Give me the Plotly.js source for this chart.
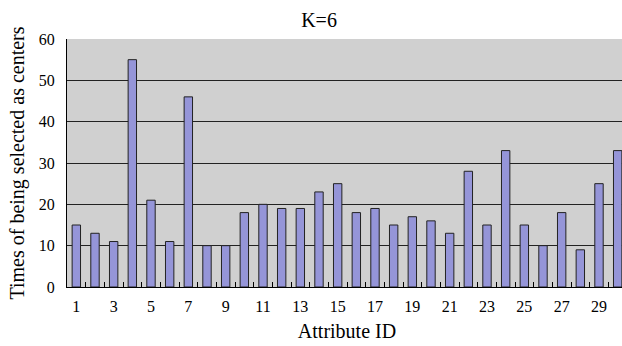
<!DOCTYPE html>
<html>
<head>
<meta charset="utf-8">
<script src="https://cdn.plot.ly/plotly-3.0.1.min.js"></script>
<style>
html, body { margin: 0; padding: 0; overflow: hidden; width: 622px; height: 346px; background: #fff; }
#chart { width: 628px; height: 346px; }
</style>
</head>
<body>
<div id="chart"></div>
<script>
const attributeIds = [1,2,3,4,5,6,7,8,9,10,11,12,13,14,15,16,17,18,19,20,21,22,23,24,25,26,27,28,29,30];
const timesSelected = [15,13,11,55,21,11,46,10,10,18,20,19,19,23,25,18,19,15,17,16,13,28,15,33,15,10,18,9,25,33];
const xTickLabels = [1,3,5,7,9,11,13,15,17,19,21,23,25,27,29];
const yTicks = [0,10,20,30,40,50,60];

const font = "Liberation Serif";

const boundaries = attributeIds.map(v => v - 0.5).concat([attributeIds[attributeIds.length-1] + 0.5]);

const trace = {
  type: 'bar',
  x: attributeIds,
  y: timesSelected,
  width: 0.45,
  marker: { color: '#9595d8', line: { color: '#222', width: 1 } },
  hoverinfo: 'x+y'
};
const labelTrace = {
  type: 'scatter', mode: 'none',
  x: xTickLabels, y: xTickLabels.map(() => 0),
  xaxis: 'x2', yaxis: 'y', hoverinfo: 'skip', showlegend: false
};

const layout = {
  width: 628,
  height: 346,
  margin: { l: 67, r: 1, t: 39, b: 59 },
  paper_bgcolor: '#ffffff',
  plot_bgcolor: '#d0d0d0',
  showlegend: false,
  title: {
    text: 'K=6',
    font: { family: font, size: 20, color: '#000' },
    x: 0.508, xanchor: 'center',
    y: 0.942, yanchor: 'middle'
  },
  xaxis: {
    range: [0.5, 30.5],
    tickmode: 'array',
    tickvals: boundaries,
    showticklabels: false,
    ticks: 'inside',
    ticklen: 5,
    tickcolor: '#000',
    tickwidth: 1,
    showgrid: false,
    zeroline: false,
    showline: true,
    linecolor: '#000',
    linewidth: 1,
    title: { text: 'Attribute ID', font: { family: font, size: 20, color: '#000' }, standoff: 36 },
    fixedrange: true
  },
  xaxis2: {
    overlaying: 'x',
    matches: 'x',
    side: 'bottom',
    range: [0.5, 30.5],
    tickmode: 'array',
    tickvals: xTickLabels,
    ticktext: xTickLabels.map(String),
    ticks: '',
    showgrid: false,
    zeroline: false,
    showline: false,
    tickfont: { family: font, size: 16, color: '#000' },
    ticklabelstandoff: 8,
    fixedrange: true
  },
  yaxis: {
    range: [0, 60],
    tickmode: 'array',
    tickvals: yTicks,
    ticks: '',
    showgrid: true,
    gridcolor: '#222',
    gridwidth: 1,
    zeroline: false,
    showline: true,
    linecolor: '#000',
    linewidth: 1,
    tickfont: { family: font, size: 16, color: '#000' },
    ticklabelstandoff: 8,
    title: { text: 'Times of being selected as centers', font: { family: font, size: 20, color: '#000' }, standoff: 8 },
    fixedrange: true
  }
};

Plotly.newPlot('chart', [trace, labelTrace], layout, { displayModeBar: false, staticPlot: true });
</script>
</body>
</html>
